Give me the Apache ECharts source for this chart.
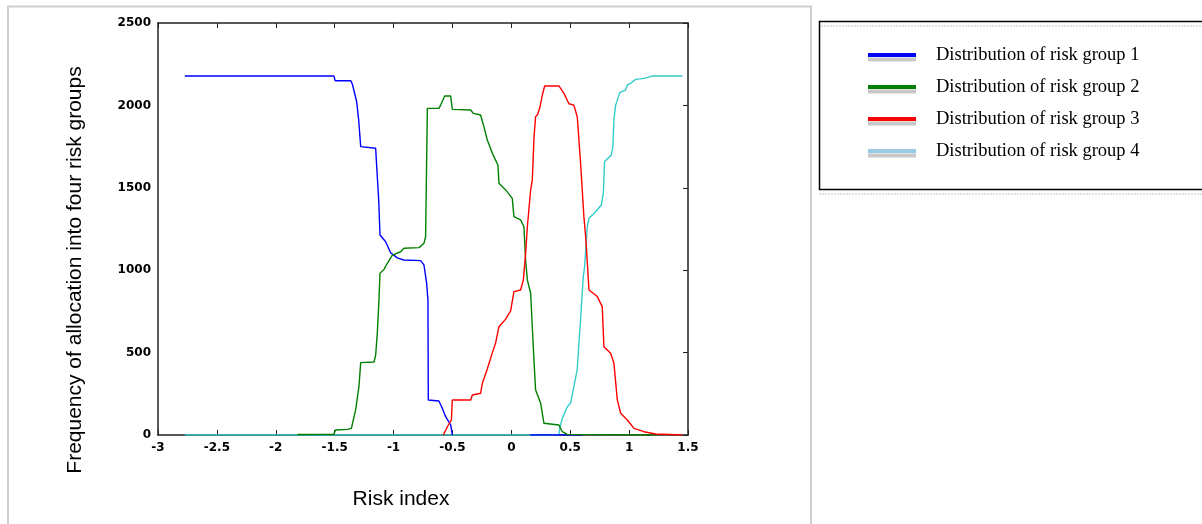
<!DOCTYPE html>
<html>
<head>
<meta charset="utf-8">
<script src="https://cdn.jsdelivr.net/npm/echarts@6/dist/echarts.min.js"></script>
<style>
html,body{margin:0;padding:0;background:#fff;}
#chart{width:1202px;height:524px;}
</style>
</head>
<body>
<div id="chart"></div>
<script>
// ---- data ----
const seriesNames = ['Distribution of risk group 1','Distribution of risk group 2','Distribution of risk group 3','Distribution of risk group 4'];
const xTickLabels = ['-3','-2.5','-2','-1.5','-1','-0.5','0','0.5','1','1.5'];
const yTickLabels = ['0','500','1000','1500','2000','2500'];

const group1 = [[-2.772,2178],[-1.506,2178],[-1.496,2150],[-1.364,2150],[-1.350,2130],[-1.313,2022],[-1.296,1911],
[-1.279,1750],[-1.267,1740],[-1.152,1740],[-1.138,1567],[-1.126,1426],[-1.115,1214],[-1.067,1173],[-1.025,1106],
[-0.968,1075],[-0.914,1062],[-0.770,1058],[-0.742,1032],[-0.719,922],[-0.708,819],[-0.705,212],[-0.698,206],
[-0.615,206],[-0.586,162],[-0.558,111],[-0.515,61],[-0.501,0],[-0.3,null],[0.16,0],[0.60,0]];

const group2 = [[-1.817,3],[-1.508,5],[-1.492,30],[-1.392,34],[-1.358,40],[-1.322,152],[-1.294,293],[-1.279,439],
[-1.166,443],[-1.152,485],[-1.138,617],[-1.124,819],[-1.115,981],[-1.081,1005],[-1.053,1042],[-1.010,1092],
[-0.940,1112],[-0.912,1133],[-0.784,1137],[-0.742,1163],[-0.728,1203],[-0.713,1982],[-0.615,1982],[-0.600,2002],
[-0.566,2057],[-0.515,2057],[-0.501,1976],[-0.345,1972],[-0.323,1952],[-0.261,1942],[-0.233,1871],[-0.204,1790],
[-0.161,1709],[-0.114,1638],[-0.105,1527],[-0.048,1487],[0.008,1436],[0.022,1325],[0.079,1305],[0.107,1264],
[0.121,1062],[0.136,941],[0.164,860],[0.178,657],[0.192,455],[0.206,273],[0.249,192],[0.277,71],[0.404,61],
[0.433,20],[0.475,4],[0.48,0],[1.242,0]];

const group3 = [[-0.577,0],[-0.572,10],[-0.543,50],[-0.509,91],[-0.501,212],[-0.345,212],[-0.331,243],[-0.261,253],
[-0.246,314],[-0.204,400],[-0.161,500],[-0.133,560],[-0.105,657],[-0.048,703],[-0.006,753],[0.022,870],[0.079,880],
[0.102,941],[0.107,981],[0.121,1100],[0.136,1264],[0.164,1487],[0.178,1547],[0.192,1800],[0.206,1932],[0.223,1945],
[0.243,1990],[0.263,2063],[0.283,2118],[0.404,2118],[0.447,2073],[0.489,2010],[0.531,2002],[0.560,1930],[0.588,1649],
[0.616,1325],[0.631,1203],[0.645,1050],[0.659,880],[0.730,840],[0.772,779],[0.786,536],[0.843,496],[0.871,435],
[0.900,212],[0.928,132],[0.985,91],[1.041,40],[1.126,20],[1.225,6],[1.239,0],[1.454,0]];

const group4 = [[-2.772,0],[0.404,0],[0.413,50],[0.433,101],[0.475,172],[0.503,192],[0.531,293],[0.560,400],
[0.574,556],[0.588,700],[0.611,961],[0.622,1021],[0.645,1264],[0.659,1315],[0.716,1355],[0.764,1396],[0.781,1467],
[0.792,1659],[0.849,1699],[0.862,1750],[0.871,1911],[0.885,2000],[0.922,2079],[0.970,2093],[0.985,2124],[1.013,2134],
[1.055,2158],[1.126,2164],[1.197,2178],[1.452,2178]];

const lineColors = ['#0000ff','#008000','#ff0000','#33cccc'];
const legendColors = ['#0000ff','#008000','#ff0000','#99cce0'];

const chart = echarts.init(document.getElementById('chart'), null, {renderer:'canvas'});

const tickFont = {fontFamily:'DejaVu Sans', fontWeight:'bold', fontSize:12, color:'#000'};
const nameFont = {fontFamily:'Liberation Sans', fontSize:21, color:'#000'};
const axisLine = {show:true, onZero:false, lineStyle:{color:'#222', width:1.5}};

const legendRowsY = [55, 87, 119, 151];

const option = {
  backgroundColor:'#ffffff',
  animation:false,
  grid:{left:158, right:514, top:23, bottom:89, outerBoundsMode:'none', containLabel:false},
  legend:{
    orient:'vertical', left:868, top:45, padding:0, itemWidth:48, itemHeight:4, itemGap:12, icon:'rect',
    textStyle:{fontFamily:'Liberation Serif', fontSize:18.5, color:'#000', lineHeight:20, padding:[0,0,0,15]},
    selectedMode:false,
    data: seriesNames.map((n,i)=>({name:n, itemStyle:{color:legendColors[i]}}))
  },
  xAxis:[
    {type:'value', min:-3, max:1.5, interval:0.5, position:'bottom',
     axisLine:axisLine, splitLine:{show:false},
     axisTick:{show:true, inside:true, length:5, lineStyle:{color:'#222'}},
     axisLabel:{...tickFont, margin:7, formatter:(v)=>xTickLabels[Math.round((v+3)/0.5)]},
     name:'Risk index', nameLocation:'middle', nameGap:54,
     nameTextStyle:{...nameFont, padding:[0,44,0,0]}},
    {type:'value', min:-3, max:1.5, interval:0.5, position:'top',
     axisLine:axisLine, splitLine:{show:false},
     axisTick:{show:true, inside:true, length:5, lineStyle:{color:'#222'}},
     axisLabel:{show:false}}
  ],
  yAxis:[
    {type:'value', min:0, max:2500, interval:500, position:'left',
     axisLine:axisLine, splitLine:{show:false},
     axisTick:{show:false},
     axisLabel:{...tickFont, margin:7, formatter:(v)=>yTickLabels[Math.round(v/500)]},
     name:'Frequency of allocation into four risk groups', nameLocation:'middle', nameGap:72, nameRotate:90,
     nameTextStyle:{...nameFont, padding:[0,82,0,0]}},
    {type:'value', min:0, max:2500, interval:500, position:'right',
     axisLine:axisLine, splitLine:{show:false},
     axisTick:{show:true, inside:true, length:5, lineStyle:{color:'#222'}},
     axisLabel:{show:false}}
  ],
  series:[
    {name:seriesNames[0], type:'line', data:group1, showSymbol:false, connectNulls:false, z:3,
     lineStyle:{color:lineColors[0], width:1.4}, itemStyle:{color:lineColors[0]}},
    {name:seriesNames[1], type:'line', data:group2, showSymbol:false, z:3,
     lineStyle:{color:lineColors[1], width:1.4}, itemStyle:{color:lineColors[1]}},
    {name:seriesNames[2], type:'line', data:group3, showSymbol:false, z:3,
     lineStyle:{color:lineColors[2], width:1.4}, itemStyle:{color:lineColors[2]}},
    {name:seriesNames[3], type:'line', data:group4, showSymbol:false, z:2,
     lineStyle:{color:lineColors[3], width:1.4}, itemStyle:{color:lineColors[3]}}
  ],
  graphic:[
    {type:'rect', z:-1, silent:true, shape:{x:8, y:6.5, width:803, height:530},
     style:{fill:'none', stroke:'#cfcfcf', lineWidth:2}},
    {type:'rect', silent:true, shape:{x:819.5, y:21.5, width:400, height:168},
     style:{fill:'none', stroke:'#000', lineWidth:1.5}},
    {type:'line', silent:true, shape:{x1:821, y1:26, x2:1202, y2:26},
     style:{stroke:'#c4c4c4', lineWidth:1, lineDash:[2,1]}},
    {type:'line', silent:true, shape:{x1:819, y1:194, x2:1202, y2:194},
     style:{stroke:'#c4c4c4', lineWidth:1, lineDash:[2,1]}},
    ...legendRowsY.map((y)=>({type:'rect', silent:true, shape:{x:868, y:y+2.5, width:48, height:4},
      style:{fill:'#c8c8c8'}}))
  ]
};
chart.setOption(option);
</script>
</body>
</html>
